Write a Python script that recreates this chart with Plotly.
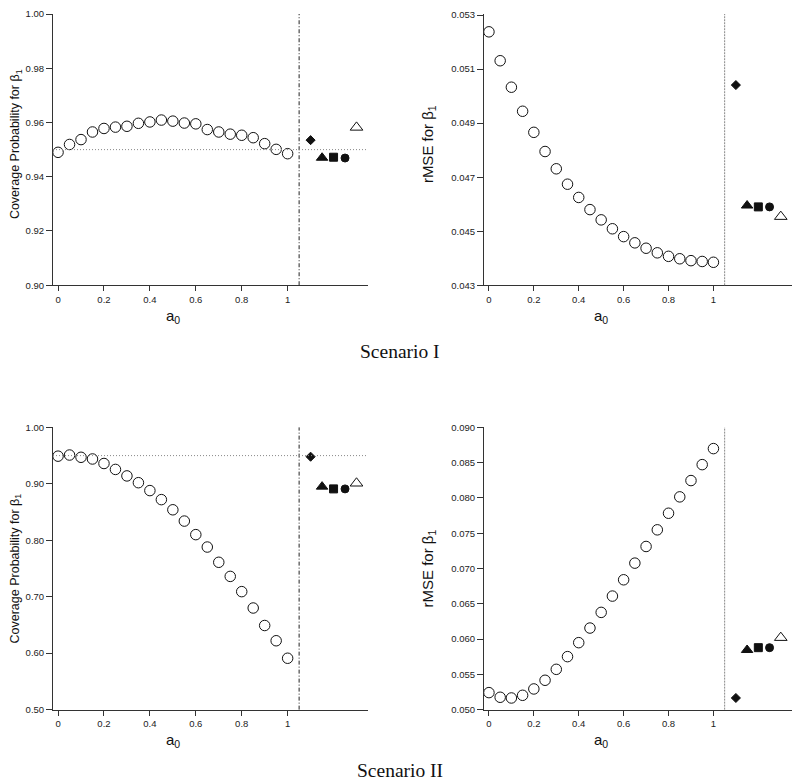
import plotly.graph_objects as go

# ---------------- data ----------------
a0 = [0.00, 0.05, 0.10, 0.15, 0.20, 0.25, 0.30, 0.35, 0.40, 0.45, 0.50,
      0.55, 0.60, 0.65, 0.70, 0.75, 0.80, 0.85, 0.90, 0.95, 1.00]

cp_s1 = [0.9490, 0.9519, 0.9537, 0.9565, 0.9578, 0.9583, 0.9586, 0.9597, 0.9602, 0.9609, 0.9605,
         0.9598, 0.9595, 0.9574, 0.9565, 0.9557, 0.9553, 0.9544, 0.9522, 0.9501, 0.9485]
rmse_s1 = [0.05238, 0.05131, 0.05033, 0.04944, 0.04866, 0.04795, 0.04731, 0.04674, 0.04625, 0.04580, 0.04542,
           0.04509, 0.04480, 0.04457, 0.04437, 0.04420, 0.04407, 0.04398, 0.04391, 0.04388, 0.04385]
cp_s2 = [0.949, 0.951, 0.947, 0.944, 0.936, 0.9255, 0.914, 0.902, 0.888, 0.872, 0.854,
         0.834, 0.810, 0.788, 0.761, 0.736, 0.709, 0.680, 0.649, 0.622, 0.591]
rmse_s2 = [0.05241, 0.05175, 0.05165, 0.05203, 0.05293, 0.05416, 0.05571, 0.05751, 0.05949, 0.06156, 0.06378,
           0.06609, 0.06840, 0.07076, 0.07312, 0.07548, 0.07783, 0.08015, 0.08246, 0.08472, 0.08699]

# other methods (diamond, triangle, square, circle, open triangle)
method_x = [1.10, 1.15, 1.20, 1.25, 1.30]
method_symbols = ["diamond", "triangle-up", "square", "circle", "triangle-up-open"]
method_sizes = [7, 10, 8, 8, 11]
cp_s1_methods = [0.9535, 0.9470, 0.9472, 0.9469, 0.9582]
rmse_s1_methods = [0.05041, 0.04595, 0.04590, 0.04590, 0.04554]
cp_s2_methods = [0.948, 0.895, 0.891, 0.891, 0.901]
rmse_s2_methods = [0.05165, 0.05845, 0.05878, 0.05878, 0.0602]

xtick_vals = [0, 0.2, 0.4, 0.6, 0.8, 1.0]
xtick_text = ["0", "0.2", "0.4", "0.6", "0.8", "1"]
cp1_ticks = [0.90, 0.92, 0.94, 0.96, 0.98, 1.00]
rmse1_ticks = [0.043, 0.045, 0.047, 0.049, 0.051, 0.053]
cp2_ticks = [0.50, 0.60, 0.70, 0.80, 0.90, 1.00]
rmse2_ticks = [0.050, 0.055, 0.060, 0.065, 0.070, 0.075, 0.080, 0.085, 0.090]

nominal = 0.95
cut_x = 1.05

# ---------------- layout helpers ----------------
OFFX, OFFY, SY = 8, 14, 0.985
W, H = 784, 779
def px_x(p): return min(max((p - OFFX) / W, 0), 1)
def px_y(p):
    f = (p - OFFY) / SY
    return min(max(1 - f / H, 0), 1)

panels = [
    ("", (53, 368), (3, 285), cp_s1, cp_s1_methods, cp1_ticks, ".2f", [0.90, 1.00], "Coverage Probability for β<sub>1</sub>", True),
    ("2", (484, 799), (3, 285), rmse_s1, rmse_s1_methods, rmse1_ticks, ".3f", [0.043, 0.05304], "rMSE for β<sub>1</sub>", False),
    ("3", (53, 368), (427, 709), cp_s2, cp_s2_methods, cp2_ticks, ".2f", [0.50, 1.00], "Coverage Probability for β<sub>1</sub>", True),
    ("4", (484, 799), (427, 709), rmse_s2, rmse_s2_methods, rmse2_ticks, ".3f", [0.050, 0.090], "rMSE for β<sub>1</sub>", False),
]

fig = go.Figure()
shapes = []
annotations = []
sans = "Liberation Sans, Arial, sans-serif"
axis_font = dict(family=sans, size=9.5, color="#222")

for suf, xd, yd, yv, ym, yt, fmt, yr, ylab, is_cp in panels:
    xa = "x" + suf
    ya = "y" + suf
    fig.add_trace(go.Scatter(
        x=a0, y=yv, xaxis=xa, yaxis=ya, mode="markers",
        marker=dict(symbol="circle-open", size=10.5, color="#111", line=dict(width=1, color="#111")),
        showlegend=False, cliponaxis=False))
    for mx, my, sym, sz in zip(method_x, ym, method_symbols, method_sizes):
        fig.add_trace(go.Scatter(
            x=[mx], y=[my], xaxis=xa, yaxis=ya, mode="markers",
            marker=dict(symbol=sym, size=sz, color="#111", line=dict(width=1, color="#111")),
            showlegend=False, cliponaxis=False))

    fig.layout["xaxis" + suf] = dict(
        domain=[px_x(xd[0]), px_x(xd[1])], range=[-0.022, 1.35], anchor=ya,
        tickvals=xtick_vals, ticktext=xtick_text, ticks="outside", ticklen=5,
        tickcolor="#333", showline=True, linecolor="#333", linewidth=1,
        showgrid=False, zeroline=False, tickfont=axis_font)
    fig.layout["yaxis" + suf] = dict(
        domain=[px_y(yd[1]), px_y(yd[0])], range=yr, anchor=xa,
        tickvals=yt, ticktext=[format(v, fmt) for v in yt], ticks="outside", ticklen=6,
        tickcolor="#333", showline=True, linecolor="#333", linewidth=1,
        showgrid=False, zeroline=False, tickfont=axis_font)

    # vertical separator
    shapes.append(dict(type="line", xref=xa, yref=ya + " domain", x0=cut_x, x1=cut_x, y0=0, y1=1,
                       line=dict(color="#222" if is_cp else "#888", width=1,
                                 dash="4px,2px,1px,2px" if is_cp else "2px,1px")))
    if is_cp:
        shapes.append(dict(type="line", xref=xa + " domain", yref=ya, x0=0, x1=1, y0=nominal, y1=nominal,
                           line=dict(color="#888", width=1, dash="1px,2px")))

    # axis titles
    annotations.append(dict(text="a<sub>0</sub>", xref=xa, yref="paper", x=0.5,
                            y=px_y(yd[1] + 31), xanchor="center", yanchor="middle", showarrow=False,
                            font=dict(family=sans, size=15, color="#111")))
    annotations.append(dict(text=ylab, xref="paper", yref="paper",
                            x=px_x(16 if xd[0] < 100 else 428), y=px_y((yd[0] + yd[1]) / 2),
                            xanchor="center", yanchor="middle",
                            textangle=-90, showarrow=False,
                            font=dict(family=sans, size=12.5 if is_cp else 15, color="#111")))

annotations.append(dict(text="Scenario I", xref="paper", yref="paper", x=px_x(400), y=px_y(351),
                        xanchor="center", yanchor="middle",
                        showarrow=False, font=dict(family="Liberation Serif, serif", size=19.5, color="#111")))
annotations.append(dict(text="Scenario II", xref="paper", yref="paper", x=px_x(400), y=px_y(770),
                        xanchor="center", yanchor="middle",
                        showarrow=False, font=dict(family="Liberation Serif, serif", size=19.5, color="#111")))

fig.update_layout(width=W, height=H, margin=dict(l=0, r=0, t=0, b=0),
                  plot_bgcolor="white", paper_bgcolor="white",
                  shapes=shapes, annotations=annotations, showlegend=False)

fig.write_html("out.html")
